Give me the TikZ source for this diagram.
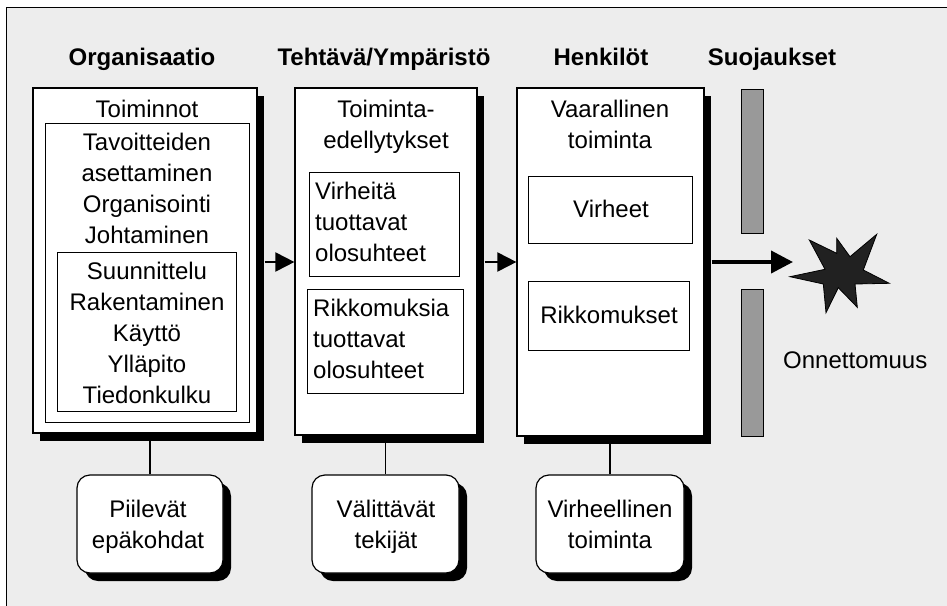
\documentclass[tikz,border=0pt]{standalone}
\usepackage{fontspec}
\setmainfont{Liberation Sans}
\usetikzlibrary{arrows.meta,shadows,fit}
\newcommand\tl[2]{\begin{tabular}[t]{@{}#1@{}}#2\end{tabular}}
\tikzset{
 mainbox/.style={draw, line width=1.2pt, fill=white, inner sep=0pt, general shadow={fill=black, shadow xshift=7pt, shadow yshift=-8pt}},
 subbox/.style={draw, line width=0.9pt, fill=white, inner sep=0pt},
 barbox/.style={draw, line width=1pt, fill=black!40, inner sep=0pt},
 rbox/.style={draw, line width=1.2pt, fill=white, rounded corners=13pt, inner sep=0pt, general shadow={fill=black, shadow xshift=8pt, shadow yshift=-8pt}},
 txt/.style={anchor=base, inner sep=0pt, font=\fontsize{24}{31}\selectfont},
 ltxt/.style={anchor=base west, inner sep=0pt, font=\fontsize{24}{31}\selectfont},
 head/.style={anchor=base, inner sep=0pt, font=\bfseries\fontsize{24}{29}\selectfont},
 conn/.style={line width=2pt, -{Triangle[length=19pt,width=19pt]}},
 bigconn/.style={line width=4pt, -{Triangle[length=22pt,width=22pt]}},
 link/.style={line width=1.2pt}
}
\begin{document}
\begin{tikzpicture}[x=1pt,y=-1pt]
\useasboundingbox (0,0) rectangle (947,605);
\begin{scope}
\clip (0,0) rectangle (947,605);
\draw[fill=black!7, line width=1pt] (6,7) rectangle (970,630);
\end{scope}

% headings
\node[head] (h1) at (142,65) {Organisaatio};
\node[head] (h2) at (384,65) {Tehtävä/Ympäristö};
\node[head] (h3) at (601,65) {Henkilöt};
\node[head] (h4) at (772,65) {Suojaukset};

% main boxes
\node[mainbox, fit={(33,88) (257,433)}] (box1) {};
\node[mainbox, fit={(295,88) (477,435)}] (box2) {};
\node[mainbox, fit={(517,88) (704,436)}] (box3) {};

% box 1 content
\node[subbox, fit={(45,123) (249,422)}] (b1a) {};
\node[subbox, fit={(57,252) (236,411)}] (b1b) {};
\node[txt] (t1) at (147,117) {Toiminnot};
\node[txt] (t1a) at (147,150) {\tl{c}{Tavoitteiden\\asettaminen\\Organisointi\\Johtaminen}};
\node[txt] (t1b) at (147,279) {\tl{c}{Suunnittelu\\Rakentaminen\\Käyttö\\Ylläpito\\Tiedonkulku}};

% box 2 content
\node[subbox, fit={(309,172) (459,276)}] (b2a) {};
\node[subbox, fit={(307,289) (463,393)}] (b2b) {};
\node[txt] (t2) at (386,117) {\tl{c}{Toiminta-\\edellytykset}};
\node[ltxt] (t2a) at (315,199) {\tl{l}{Virheitä\\tuottavat\\olosuhteet}};
\node[ltxt] (t2b) at (313,316) {\tl{l}{Rikkomuksia\\tuottavat\\olosuhteet}};

% box 3 content
\node[subbox, fit={(528,176) (692,243)}] (b3a) {};
\node[subbox, fit={(528,281) (689,350)}] (b3b) {};
\node[txt] (t3) at (610,117) {\tl{c}{Vaarallinen\\toiminta}};
\node[txt] (t3a) at (611,217) {Virheet};
\node[txt] (t3b) at (609,323) {Rikkomukset};

% barriers
\node[barbox, fit={(741,89) (763,233)}] (bar1) {};
\node[barbox, fit={(741,289) (763,436)}] (bar2) {};

% star
\coordinate (star) at (793,262);
\draw[fill=black!87, line width=0.8pt, line join=miter]
 (809.3,240) -- (836.7,253.3) -- (836.7,238.3) -- (850,256.7) -- (876.7,234.3)
 -- (863.3,270) -- (889.3,283.3) -- (855,284) -- (857.3,307.3) -- (838.3,287.7)
 -- (826,312.7) -- (823.3,284) -- (790,276.7) -- (825,269.3) -- cycle;
\node[ltxt] (acc) at (783,368) {Onnettomuus};

% bottom rounded boxes
\node[rbox, fit={(77,475) (223,573)}] (rb1) {};
\node[rbox, fit={(312,475) (459,573)}] (rb2) {};
\node[rbox, fit={(536,475) (684,573)}] (rb3) {};
\node[txt] (r1) at (148,517) {\tl{c}{Piilevät\\epäkohdat}};
\node[txt] (r2) at (386,517) {\tl{c}{Välittävät\\tekijät}};
\node[txt] (r3) at (610,517) {\tl{c}{Virheellinen\\toiminta}};

% connectors
\coordinate (ay) at (0,262);
\coordinate (s1) at ([xshift=7pt]box1.east);
\coordinate (s2) at ([xshift=7pt]box2.east);
\coordinate (s3) at ([xshift=7pt]box3.east);
\draw[conn] (s1 |- ay) -- (box2.west |- ay);
\draw[conn] (s2 |- ay) -- (box3.west |- ay);
\draw[bigconn] (s3 |- ay) -- (star);
\draw[link] (rb1.north) -- (rb1.north |- box1.south);
\draw[link] (rb2.north) -- (rb2.north |- box2.south);
\draw[link] (rb3.north) -- (rb3.north |- box3.south);
\end{tikzpicture}
\end{document}
